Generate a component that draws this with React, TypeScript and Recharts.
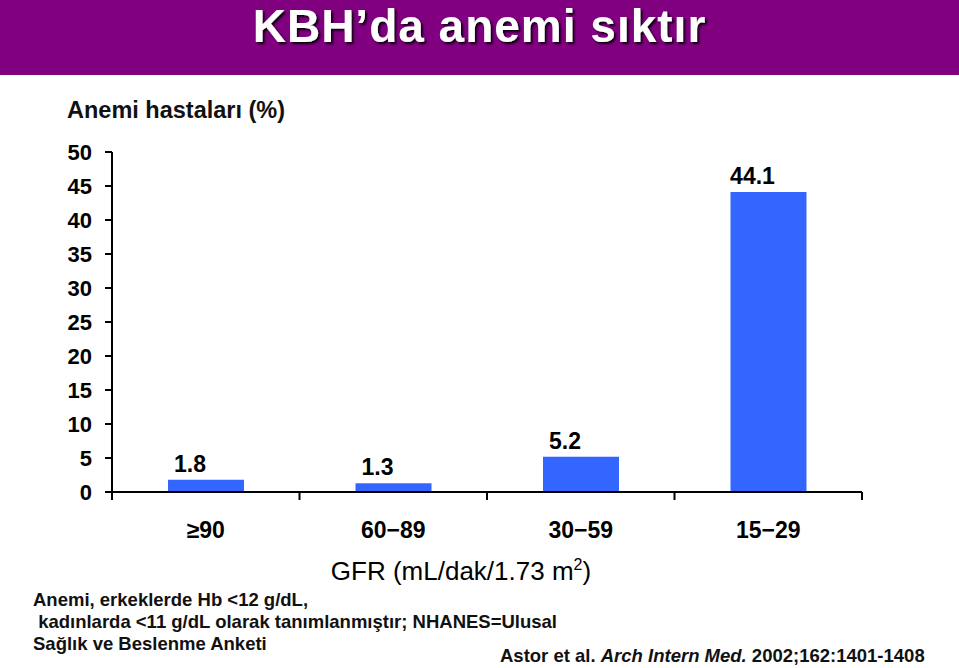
import React from 'react'
import { BarChart, Bar, XAxis, YAxis, LabelList } from 'recharts'

const categories = ['≥90', '60−89', '30−59', '15−29']
const anemiaPct = [1.8, 1.3, 5.2, 44.1]
const yTicks = [0, 5, 10, 15, 20, 25, 30, 35, 40, 45, 50]
const footnoteLines = [
  'Anemi, erkeklerde Hb <12 g/dL,',
  ' kadınlarda <11 g/dL olarak tanımlanmıştır; NHANES=Ulusal',
  'Sağlık ve Beslenme Anketi',
]

const data = categories.map((gfr, i) => ({ gfr, value: anemiaPct[i] }))

const FONT = '"Liberation Sans", Arial, Helvetica, sans-serif'
const W = 959
const H = 668
const PLOT_LEFT = 112
const PLOT_RIGHT = 862
const BAND = (PLOT_RIGHT - PLOT_LEFT) / categories.length

const CategoryTick = (props: any) => {
  const { x, y, payload, index } = props
  const last = index === categories.length - 1
  return (
    <g>
      <line x1={x - BAND / 2} x2={x - BAND / 2} y1={y} y2={y + 8} stroke="#000" strokeWidth={2} />
      {last && <line x1={x + BAND / 2} x2={x + BAND / 2} y1={y} y2={y + 8} stroke="#000" strokeWidth={2} />}
      <text x={x} y={y + 46} textAnchor="middle" fontFamily={FONT} fontSize={23} fontWeight="bold" fill="#000">
        {payload.value}
      </text>
    </g>
  )
}

const ValueLabel = (props: any) => {
  const { x, y, width, value } = props
  return (
    <text x={x + width / 2 - 16} y={y - 8} textAnchor="middle" fontFamily={FONT} fontSize={23} fontWeight="bold" fill="#000">
      {value}
    </text>
  )
}

export default function App() {
  return (
    <div style={{ position: 'absolute', left: 0, top: 0, width: W, height: H, background: '#fff', fontFamily: FONT, overflow: 'hidden' }}>
      {/* header band + title */}
      <svg width={W} height={75} style={{ position: 'absolute', left: 0, top: 0 }}>
        <defs>
          <filter id="titleShadow" x="-5%" y="-20%" width="110%" height="150%">
            <feDropShadow dx={2} dy={2} stdDeviation={1} floodColor="#000" floodOpacity={0.9} />
          </filter>
        </defs>
        <rect x={0} y={0} width={W} height={75} fill="#800080" />
        <text
          x={W / 2}
          y={42}
          textAnchor="middle"
          fontFamily={FONT}
          fontSize={46}
          fontWeight="bold"
          letterSpacing={1}
          fill="#fff"
          filter="url(#titleShadow)"
        >
          KBH’da anemi sıktır
        </text>
      </svg>

      <div style={{ position: 'absolute', left: 67, top: 95, fontSize: 23.5, fontWeight: 'bold', color: '#111', lineHeight: '30px' }}>
        Anemi hastaları (%)
      </div>

      <div style={{ position: 'absolute', left: 0, top: 0 }}>
        <BarChart width={W} height={H} data={data} margin={{ top: 152, right: W - PLOT_RIGHT, bottom: 96, left: 0 }}>
          <XAxis
            dataKey="gfr"
            height={80}
            axisLine={{ stroke: '#000', strokeWidth: 2 }}
            tickLine={false}
            tickSize={0}
            tickMargin={0}
            tick={<CategoryTick />}
            interval={0}
          />
          <YAxis
            width={PLOT_LEFT}
            domain={[0, 50]}
            ticks={yTicks}
            interval={0}
            axisLine={{ stroke: '#000', strokeWidth: 2 }}
            tickLine={{ stroke: '#000', strokeWidth: 2 }}
            tickSize={7}
            tickMargin={13}
            tick={{ fontSize: 22, fontWeight: 'bold', fill: '#000', fontFamily: FONT }}
          />
          <Bar dataKey="value" fill="#3366FF" barSize={76} isAnimationActive={false}>
            <LabelList dataKey="value" content={<ValueLabel />} />
          </Bar>
        </BarChart>
      </div>

      <div style={{ position: 'absolute', left: 0, width: 922, top: 549, textAlign: 'center', fontSize: 26, color: '#000', lineHeight: '32px' }}>
        GFR (mL/dak/1.73 m<sup style={{ fontSize: 16 }}>2</sup>)
      </div>

      {footnoteLines.map((line, i) => (
        <div
          key={i}
          style={{ position: 'absolute', left: 33, top: 589 + i * 22, fontSize: 18.5, fontWeight: 'bold', color: '#111', lineHeight: '22px', whiteSpace: 'pre' }}
        >
          {line}
        </div>
      ))}

      <div style={{ position: 'absolute', left: 500, top: 645, fontSize: 18.5, fontWeight: 'bold', color: '#111', lineHeight: '22px', whiteSpace: 'pre' }}>
        Astor et al. <i>Arch Intern Med.</i> 2002;162:1401-1408
      </div>
    </div>
  )
}
